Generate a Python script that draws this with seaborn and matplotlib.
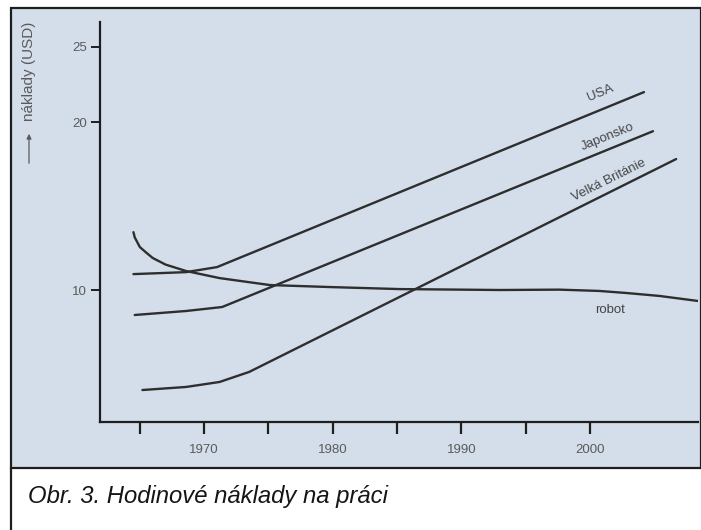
import numpy as np
import pandas as pd
import matplotlib
matplotlib.use("Agg")
import matplotlib.pyplot as plt
from matplotlib.patches import Rectangle, FancyArrowPatch
from matplotlib.lines import Line2D
import seaborn as sns

# Values (USD per hour)
usa_years = [1964.5, 1968.6, 1971.0, 2004.2]
usa_cost = [10.87, 10.98, 11.26, 21.96]

japan_years = [1964.6, 1968.6, 1971.4, 2004.9]
japan_cost = [8.67, 8.88, 9.09, 19.42]

uk_years = [1965.2, 1968.6, 1971.2, 1973.5, 2006.7]
uk_cost = [4.99, 5.13, 5.36, 5.83, 17.66]

robot_years = [1964.5, 1964.6, 1965.0, 1965.5, 1966.0, 1967.0, 1968.6, 1971.2,
               1975.1, 1979.8, 1985.2, 1993.0, 1997.6, 2000.7, 2002.8,
               2005.4, 2008.4]
robot_cost = [13.25, 12.95, 12.39, 12.07, 11.77, 11.40, 11.04, 10.65,
              10.27, 10.16, 10.05, 10.0, 10.02, 9.95, 9.84, 9.68, 9.41]

x_ticks = [1965, 1970, 1975, 1980, 1985, 1990, 1995, 2000]
x_tick_labels = ["", "1970", "", "1980", "", "1990", "", "2000"]
y_ticks = [10, 20, 25]

frames = []
for name, yrs, cost in [("USA", usa_years, usa_cost),
                        ("Japonsko", japan_years, japan_cost),
                        ("Velká Británie", uk_years, uk_cost),
                        ("robot", robot_years, robot_cost)]:
    frames.append(pd.DataFrame({"rok": yrs, "naklady": cost, "serie": name}))
df = pd.concat(frames, ignore_index=True)

sns.set_theme(style="ticks")
plt.rcParams["font.family"] = ["Liberation Sans", "DejaVu Sans"]

fig = plt.figure(figsize=(7.01, 5.30), dpi=100)
fig.patch.set_facecolor("white")

# light blue panel with dark frame, white caption strip below
panel_col = "#d4deea"
fig.patches.append(Rectangle((11 / 701, 62 / 530), 689.5 / 701, 460 / 530,
                             transform=fig.transFigure, facecolor=panel_col,
                             edgecolor="#1e1e1e", lw=1.6, zorder=-2))
fig.add_artist(Line2D([11 / 701, 11 / 701], [0, 62 / 530], color="#1e1e1e",
                      lw=1.6, transform=fig.transFigure))

ax = fig.add_axes([100 / 701, 108 / 530, 598 / 701, 400 / 530])
ax.set_facecolor("none")
# the printed axis is neither linear nor log; a 0.75 power fits the ticks
ax.set_yscale("function", functions=(lambda v: np.power(np.clip(v, 0, None), 0.75),
                                     lambda f: np.power(np.clip(f, 0, None), 4 / 3)))

sns.lineplot(data=df, x="rok", y="naklady", units="serie", estimator=None,
             sort=False, color="#2e2e2e", lw=1.7, ax=ax, legend=False)

ax.set_xlim(1961.9, 2008.4)
ax.set_ylim(3.59, 26.7)

for side in ["top", "right"]:
    ax.spines[side].set_visible(False)
for side in ["left", "bottom"]:
    ax.spines[side].set_linewidth(1.6)
    ax.spines[side].set_color("#1e1e1e")

ax.set_xticks(x_ticks)
ax.set_xticklabels(x_tick_labels)
ax.set_yticks(y_ticks)
ax.set_yticklabels([str(t) for t in y_ticks])
ax.yaxis.set_minor_locator(matplotlib.ticker.NullLocator())
ax.tick_params(axis="x", length=8.5, width=1.6, color="#1e1e1e",
               pad=7, labelsize=9.5, labelcolor="#5a5a5a")
ax.tick_params(axis="y", length=6.5, width=1.4, color="#1e1e1e",
               pad=3, labelsize=9.5, labelcolor="#5a5a5a")
ax.set_xlabel("")
ax.set_ylabel("")

# series labels along the lines
lab_kw = dict(color="#444444", fontsize=9.5, ha="center", va="center",
              rotation_mode="anchor")
ax.text(2000.8, 21.9, "USA", rotation=22.5, **lab_kw)
ax.text(2001.4, 19.05, "Japonsko", rotation=22, **lab_kw)
ax.text(2001.5, 16.36, "Velká Británie", rotation=26.5, **lab_kw)
ax.text(2001.6, 8.93, "robot", rotation=0, **lab_kw)

# y axis caption with arrow
fig.text(29 / 701, 1 - 22 / 530, "náklady (USD)", rotation=90, ha="center",
         va="top", fontsize=11, color="#5a5a5a")
fig.add_artist(FancyArrowPatch(
    (29 / 701, 1 - 166 / 530), (29 / 701, 1 - 131 / 530),
    transform=fig.transFigure, arrowstyle="-|>", mutation_scale=7,
    color="#5a5a5a", lw=0.9))

fig.text(28 / 701, 1 - 497 / 530, "Obr. 3. Hodinové náklady na práci",
         fontsize=17.2, style="italic", color="#151515", va="center", ha="left")

fig.savefig("out.png", dpi=100)
